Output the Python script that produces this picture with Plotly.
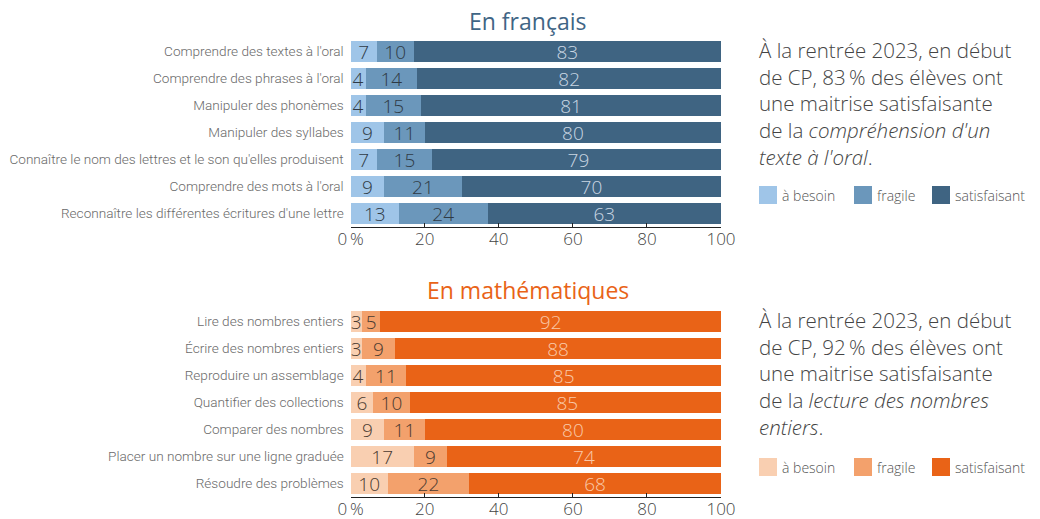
import plotly.graph_objects as go

# --- data -------------------------------------------------------------
fr_items = [
    "Comprendre des textes à l'oral",
    "Comprendre des phrases à l'oral",
    "Manipuler des phonèmes",
    "Manipuler des syllabes",
    "Connaître le nom des lettres et le son qu'elles produisent",
    "Comprendre des mots à l'oral",
    "Reconnaître les différentes écritures d'une lettre",
]
fr_besoin = [7, 4, 4, 9, 7, 9, 13]
fr_fragile = [10, 14, 15, 11, 15, 21, 24]
fr_satisf = [83, 82, 81, 80, 79, 70, 63]

ma_items = [
    "Lire des nombres entiers",
    "Écrire des nombres entiers",
    "Reproduire un assemblage",
    "Quantifier des collections",
    "Comparer des nombres",
    "Placer un nombre sur une ligne graduée",
    "Résoudre des problèmes",
]
ma_besoin = [3, 3, 4, 6, 9, 17, 10]
ma_fragile = [5, 9, 11, 10, 11, 9, 22]
ma_satisf = [92, 88, 85, 85, 80, 74, 68]

levels = ["à besoin", "fragile", "satisfaisant"]
tick_vals = [0, 20, 40, 60, 80, 100]
tick_text = ["0\u2009%", "20", "40", "60", "80", "100"]

fr_note = [
    "À la rentrée 2023, en début",
    "de CP, 83\u2009% des élèves ont",
    "une maitrise satisfaisante",
    "de la <i>compréhension d'un</i>",
    "<i>texte à l'oral</i>.",
]
ma_note = [
    "À la rentrée 2023, en début",
    "de CP, 92\u2009% des élèves ont",
    "une maitrise satisfaisante",
    "de la <i>lecture des nombres</i>",
    "<i>entiers</i>.",
]

# --- styling ----------------------------------------------------------
W, H = 1040, 519
FONT = "Open Sans"
LABEL_FONT = "Roboto"
fr_colors = ["#9fc5e8", "#6b97bb", "#3f6482"]
ma_colors = ["#f9cfb1", "#f3a16c", "#e96317"]
fr_txt = ["#2f3a45", "#2f3a45", "#c9d6e3"]
ma_txt = ["#4a3a30", "#4a3a30", "#f9c9a8"]

X_DOM = [350.7 / W, 721 / W]
Y_TOP = [1 - 227 / H, 1 - 38 / H]
Y_BOT = [1 - 497 / H, 1 - 308 / H]

fig = go.Figure()


def add_block(items, series, colors, txtcolors, xa, ya):
    for name, vals, col, tcol in zip(levels, series, colors, txtcolors):
        fig.add_trace(go.Bar(
            y=items, x=vals, name=name, orientation="h",
            marker=dict(color=col, line=dict(width=0)),
            text=[str(v) for v in vals], textposition="inside",
            insidetextanchor="middle", textangle=0,
            textfont=dict(family=FONT, size=19, color=tcol, weight=300),
            xaxis=xa, yaxis=ya, showlegend=False, hoverinfo="skip",
        ))


add_block(fr_items, [fr_besoin, fr_fragile, fr_satisf], fr_colors, fr_txt, "x", "y")
add_block(ma_items, [ma_besoin, ma_fragile, ma_satisf], ma_colors, ma_txt, "x2", "y2")

xaxis_common = dict(
    range=[0, 100], tickvals=tick_vals, ticktext=tick_text,
    showline=True, linecolor="#222", linewidth=1,
    ticks="inside", ticklen=4, tickcolor="#222",
    tickfont=dict(family=FONT, size=17, color="#444", weight=300),
    ticklabelstandoff=-3,
    showgrid=False, zeroline=False, fixedrange=True, automargin=False,
)
yaxis_common = dict(
    type="category", autorange=False, range=[6.5, -0.5],
    showline=False, ticks="", showgrid=False, zeroline=False,
    tickfont=dict(family=LABEL_FONT, size=13.6, color="#6a6a6a", weight=300),
    ticklabelstandoff=6, fixedrange=True, automargin=False,
)

fig.update_layout(
    width=W, height=H, margin=dict(l=0, r=0, t=0, b=0, autoexpand=False),
    paper_bgcolor="white", plot_bgcolor="white",
    barmode="stack", bargap=0.22,
    uniformtext=dict(minsize=19, mode="show"),
    xaxis=dict(domain=X_DOM, anchor="y", **xaxis_common),
    yaxis=dict(domain=Y_TOP, anchor="x", **yaxis_common),
    xaxis2=dict(domain=X_DOM, anchor="y2", **xaxis_common),
    yaxis2=dict(domain=Y_BOT, anchor="x2", **yaxis_common),
)

annotations = []
shapes = []


def px_x(x):
    return x / W


def px_y(y):
    return 1 - y / H


# panel titles
annotations.append(dict(
    x=px_x(527), y=px_y(21), xref="paper", yref="paper", showarrow=False,
    text="En français", xanchor="center", yanchor="middle",
    font=dict(family=FONT, size=23, color="#3f6585"),
))
annotations.append(dict(
    x=px_x(528), y=px_y(290), xref="paper", yref="paper", showarrow=False,
    text="En mathématiques", xanchor="center", yanchor="middle",
    font=dict(family=FONT, size=23, color="#e96317"),
))

# side commentary
side_font = dict(family=FONT, size=20.5, color="#444", weight=300)
for top, lines in [(34, fr_note), (304, ma_note)]:
    annotations.append(dict(
        x=px_x(757), y=px_y(top), xref="paper", yref="paper",
        showarrow=False, xanchor="left", yanchor="top", align="left",
        text="<br>".join(lines), font=side_font,
    ))

# legends
legend_x = [759, 854, 932]
for y_mid, colors in [(195, fr_colors), (467, ma_colors)]:
    for lx, lab, col in zip(legend_x, levels, colors):
        shapes.append(dict(
            type="rect", xref="paper", yref="paper",
            x0=px_x(lx), x1=px_x(lx + 18),
            y0=px_y(y_mid + 9), y1=px_y(y_mid - 9),
            fillcolor=col, line=dict(width=0),
        ))
        annotations.append(dict(
            x=px_x(lx + 21), y=px_y(y_mid), xref="paper", yref="paper",
            showarrow=False, xanchor="left", yanchor="middle", text=lab,
            font=dict(family=FONT, size=14, color="#555", weight=300),
        ))

fig.update_layout(annotations=annotations, shapes=shapes)
fig.write_html("out.html")
